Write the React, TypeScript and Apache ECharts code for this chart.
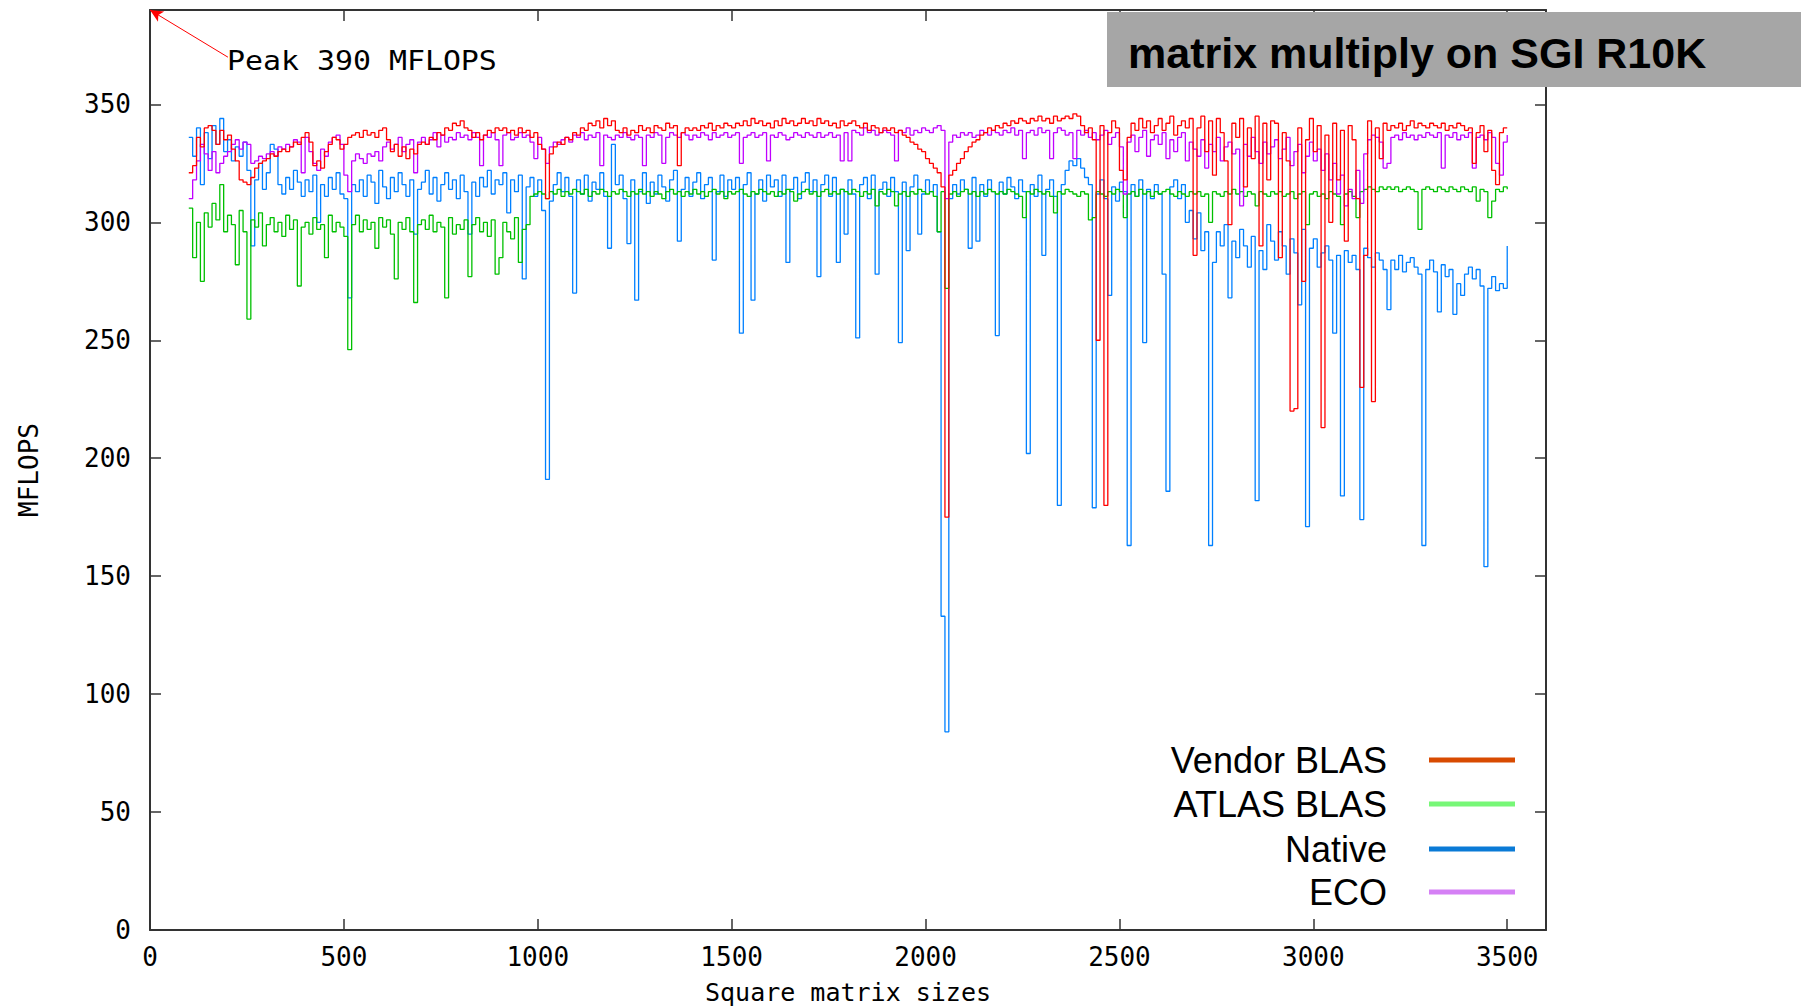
import React, { useEffect, useRef } from "react";
import * as echarts from "echarts";

// Square matrix sizes: measured every 10 from 100 to 3500
const SIZE_START = 100;
const SIZE_STEP = 10;

const SERIES_NAMES = ["Vendor BLAS", "ATLAS BLAS", "Native", "ECO"];
const PLOT_COLORS = ["#ff0000", "#00c000", "#0080ff", "#c000ff"];
const LEGEND_COLORS = ["#d84a00", "#77f777", "#0a7ad6", "#d580f5"];

const VENDOR_BLAS = [
  321, 324, 336, 332, 340, 341, 339, 333, 339, 335,
  337, 331, 326, 318, 317, 316, 319, 323, 325, 326,
  327, 329, 328, 330, 331, 330, 332, 334, 333, 336,
  338, 334, 324, 326, 323, 330, 333, 336, 335, 331,
  333, 336, 337, 338, 336, 339, 337, 338, 336, 339,
  340, 335, 330, 333, 328, 332, 327, 331, 329, 333,
  334, 333, 336, 335, 338, 337, 340, 339, 342, 341,
  343, 340, 339, 336, 338, 335, 337, 339, 338, 340,
  339, 340, 338, 339, 337, 340, 338, 339, 336, 338,
  333, 331, 310, 329, 332, 334, 333, 336, 335, 338,
  337, 340, 339, 342, 341, 343, 340, 344, 341, 343,
  339, 338, 340, 337, 339, 338, 341, 339, 340, 338,
  341, 340, 339, 342, 340, 341, 324, 338, 340, 339,
  340, 339, 341, 340, 342, 339, 341, 340, 342, 341,
  340, 342, 341, 343, 341, 344, 342, 343, 341, 342,
  340, 343, 341, 344, 342, 343, 341, 342, 344, 342,
  343, 341, 344, 342, 343, 341, 342, 340, 343, 341,
  342, 343, 341, 340, 342, 339, 341, 340, 338, 340,
  339, 340, 338, 339, 337, 336, 334, 333, 331, 330,
  327, 325, 323, 321, 315, 175, 320, 322, 325, 327,
  330, 332, 334, 335, 337, 338, 340, 339, 341, 340,
  342, 341, 343, 342, 344, 343, 342, 344, 343, 345,
  343, 344, 342, 345, 343, 344, 345, 344, 346, 345,
  341, 338, 340, 335, 250, 341, 180, 338, 343, 340,
  322, 318, 336, 342, 339, 344, 340, 343, 338, 341,
  344, 339, 342, 345, 337, 341, 343, 340, 344, 286,
  340, 345, 330, 343, 320, 344, 338, 326, 299, 342,
  336, 344, 315, 340, 327, 345, 290, 342, 318, 343,
  342, 285, 338, 326, 220, 221, 340, 275, 335, 344,
  330, 341, 213, 337, 300, 342, 318, 339, 292, 341,
  335, 310, 230, 286, 343, 224, 340, 327, 342, 339,
  341, 340, 342, 339, 341, 343, 340, 342, 341, 340,
  342, 341, 340, 342, 339, 341, 340, 342, 341, 339,
  340, 325, 338, 341, 330, 339, 322, 316, 338, 340,
  340,
];

const ATLAS_BLAS = [
  306, 285, 300, 275, 304, 298, 308, 301, 316, 296,
  303, 299, 282, 305, 296, 259, 301, 298, 304, 290,
  299, 302, 296, 300, 294, 303, 297, 301, 273, 298,
  300, 295, 302, 297, 299, 285, 303, 296, 300, 298,
  294, 246, 299, 303, 296, 301, 297, 300, 289, 302,
  298, 301, 295, 276, 300, 297, 302, 296, 266, 299,
  301, 297, 303, 296, 300, 298, 268, 302, 295, 299,
  297, 301, 277, 299, 302, 296, 300, 294, 301, 278,
  285, 300, 296, 293, 302, 283, 297, 299, 311, 312,
  313, 312, 310, 313, 312, 314, 311, 313, 312, 314,
  313, 312, 314, 311, 313, 312, 314, 313, 311, 313,
  312, 314, 313, 311, 313, 312, 314, 312, 313, 311,
  313, 312, 310, 313, 314, 312, 313, 311, 313, 312,
  314, 312, 313, 311, 313, 314, 312, 313, 310, 313,
  312, 313, 314, 312, 311, 313, 312, 314, 313, 312,
  313, 311, 313, 312, 314, 313, 309, 312, 313, 314,
  312, 313, 311, 313, 314, 312, 313, 312, 314, 313,
  312, 314, 313, 311, 313, 312, 314, 307, 313, 312,
  314, 313, 307, 312, 313, 311, 313, 312, 314, 313,
  312, 313, 311, 296, 313, 272, 312, 313, 311, 313,
  314, 312, 313, 311, 313, 312, 314, 313, 312, 313,
  312, 314, 313, 312, 311, 302, 313, 312, 314, 313,
  312, 313, 311, 304, 313, 312, 314, 313, 312, 311,
  313, 312, 301, 302, 313, 312, 311, 313, 312, 314,
  313, 302, 312, 313, 311, 314, 312, 313, 311, 313,
  312, 313, 314, 312, 311, 313, 312, 311, 313, 312,
  313, 311, 312, 300, 313, 312, 311, 313, 312, 314,
  312, 313, 311, 313, 312, 307, 313, 312, 311, 313,
  312, 313, 311, 312, 313, 310, 312, 313, 299, 312,
  313, 311, 312, 310, 313, 312, 311, 299, 312, 313,
  311, 302, 313, 314, 315, 314, 313, 315, 314, 315,
  314, 315, 313, 314, 315, 314, 313, 297, 314, 315,
  314, 313, 315, 314, 313, 315, 314, 313, 315, 314,
  313, 315, 309, 314, 313, 302, 309, 314, 313, 315,
  314,
];

const NATIVE = [
  336, 328, 340, 316, 338, 327, 341, 333, 344, 330,
  335, 326, 332, 328, 334, 322, 290, 318, 325, 314,
  321, 333, 331, 316, 312, 319, 314, 322, 317, 311,
  318, 313, 320, 300, 316, 311, 319, 314, 321, 312,
  310, 268, 316, 313, 318, 311, 320, 317, 308, 322,
  315, 310, 319, 313, 321, 316, 311, 318, 295, 314,
  317, 322, 312, 319, 309, 316, 321, 314, 318, 310,
  320, 313, 295, 317, 311, 319, 315, 322, 312, 318,
  316, 321, 304, 318, 313, 320, 276, 315, 319, 311,
  318, 305, 191, 309, 316, 321, 313, 319, 311, 270,
  318, 312, 320, 309, 317, 314, 321, 311, 289, 333,
  316, 320, 310, 291, 318, 267, 313, 321, 308, 317,
  312, 320, 315, 309, 318, 322, 292, 314, 319, 311,
  317, 321, 310, 316, 319, 284, 313, 320, 311, 318,
  314, 319, 253, 316, 321, 267, 312, 318, 309, 320,
  315, 318, 311, 320, 283, 314, 319, 310, 317, 321,
  313, 318, 277, 316, 320, 311, 319, 283, 314, 295,
  318, 312, 251, 316, 319, 310, 320, 278, 314, 317,
  311, 319, 313, 249, 317, 288, 315, 320, 295, 312,
  318, 313, 316, 296, 133, 84, 310, 316, 312, 318,
  314, 289, 319, 292, 316, 311, 318, 313, 252, 317,
  312, 319, 315, 310, 318, 313, 202, 316, 311, 320,
  286, 314, 318, 311, 180, 316, 322, 326, 324, 327,
  323, 319, 316, 179, 312, 318, 310, 269, 315, 309,
  317, 313, 163, 316, 311, 318, 249, 314, 310, 316,
  312, 278, 186, 315, 318, 310, 316, 300, 305, 293,
  304, 288, 296, 163, 283, 296, 290, 299, 268, 292,
  285, 297, 290, 281, 294, 182, 288, 280, 299, 292,
  284, 296, 290, 278, 293, 287, 265, 297, 171, 289,
  293, 281, 287, 290, 284, 253, 286, 184, 288, 283,
  286, 280, 174, 289, 285, 281, 287, 284, 280, 263,
  284, 280, 286, 279, 283, 285, 281, 278, 163, 280,
  284, 279, 262, 282, 277, 280, 261, 274, 269, 278,
  281, 276, 280, 273, 154, 272, 277, 271, 274, 272,
  290,
];

const ECO = [
  310, 318, 326, 333, 329, 322, 330, 321, 325, 328,
  330, 333, 335, 331, 334, 333, 325, 326, 328, 327,
  329, 330, 328, 332, 331, 333, 332, 335, 334, 321,
  336, 330, 325, 322, 331, 328, 334, 336, 337, 333,
  320, 313, 326, 329, 327, 325, 329, 328, 330, 326,
  332, 334, 331, 333, 336, 330, 333, 335, 321, 334,
  336, 333, 335, 338, 332, 337, 334, 336, 335, 338,
  336, 337, 335, 338, 336, 324, 337, 336, 338, 335,
  324, 337, 338, 335, 336, 338, 336, 337, 334, 327,
  336, 331, 325, 332, 334, 333, 335, 336, 334, 337,
  336, 338, 335, 337, 336, 338, 324, 337, 336, 335,
  337, 336, 338, 336, 335, 337, 336, 324, 337, 336,
  338, 337, 325, 336, 338, 337, 336, 338, 337, 335,
  337, 336, 338, 337, 335, 338, 336, 337, 338, 336,
  337, 338, 325, 336, 337, 338, 336, 337, 338, 326,
  337, 336, 338, 337, 335, 336, 338, 337, 336, 338,
  337, 336, 338, 336, 337, 338, 336, 337, 326, 338,
  326, 339, 338, 337, 340, 338, 339, 337, 338, 339,
  338, 337, 326, 339, 338, 340, 337, 339, 338, 340,
  339, 338, 340, 341, 339, 310, 334, 337, 336, 338,
  337, 338, 336, 337, 339, 338, 337, 339, 338, 337,
  339, 338, 340, 337, 339, 327, 338, 339, 337, 340,
  338, 339, 327, 338, 340, 339, 337, 338, 327, 339,
  337, 339, 336, 338, 335, 337, 339, 333, 336, 338,
  332, 312, 334, 337, 330, 336, 339, 328, 335, 337,
  333, 338, 327, 335, 330, 336, 338, 326, 334, 331,
  328, 335, 323, 333, 330, 336, 326, 332, 334, 329,
  331, 307, 333, 328, 336, 330, 325, 334, 329, 332,
  335, 327, 331, 336, 324, 330, 333, 321, 328, 334,
  326, 331, 322, 329, 318, 325, 312, 320, 307, 314,
  310, 322, 308, 329, 335, 337, 336, 334, 323, 325,
  336, 337, 335, 338, 336, 337, 335, 337, 336, 338,
  337, 336, 338, 323, 337, 336, 338, 335, 337, 336,
  338, 323, 336, 337, 335, 338, 336, 325, 320, 334,
  337,
];

const SERIES_VALUES = [VENDOR_BLAS, ATLAS_BLAS, NATIVE, ECO];

const PEAK_VALUE = 390;
const PEAK_LABEL = "Peak 390 MFLOPS";
const PEAK_LABEL_ANCHOR = [201, 370];
const TITLE = "matrix multiply on SGI R10K";

const X_MIN = 0;
const X_MAX = 3600;
const X_INTERVAL = 500;
const Y_MIN = 0;
const Y_MAX = 390;
const Y_INTERVAL = 50;

const MONO = '"DejaVu Sans Mono", "Liberation Mono", monospace';

function toPairs(values: number[]) {
  return values.map((v, i) => [SIZE_START + i * SIZE_STEP, v]);
}

export default function App() {
  const ref = useRef<HTMLDivElement>(null);

  useEffect(() => {
    if (!ref.current) return;
    const chart = echarts.init(ref.current, null, { renderer: "svg" });

    // draw order: Native, ATLAS, ECO, Vendor (Vendor on top)
    const drawOrder = [2, 1, 3, 0];
    const series: any[] = drawOrder.map((idx) => ({
      name: SERIES_NAMES[idx],
      type: "line",
      step: "end",
      data: toPairs(SERIES_VALUES[idx]),
      showSymbol: false,
      symbol: "none",
      lineStyle: { color: PLOT_COLORS[idx], width: 1.3 },
      itemStyle: { color: PLOT_COLORS[idx] },
      emphasis: { disabled: true },
      silent: true,
      z: 2,
      ...(idx === 0
        ? {
            markLine: {
              silent: true,
              symbol: ["none", "arrow"],
              symbolSize: [9, 13],
              label: { show: false },
              lineStyle: { color: "#ff0000", type: "solid", width: 1 },
              data: [
                [
                  { coord: PEAK_LABEL_ANCHOR },
                  { coord: [X_MIN, PEAK_VALUE] },
                ],
              ],
            },
          }
        : {}),
    }));

    const rowY = [760, 804, 849, 892];
    const legendGraphics: any[] = [];
    SERIES_NAMES.forEach((name, i) => {
      legendGraphics.push({
        type: "text",
        x: 1387,
        y: rowY[i],
        z: 20,
        style: {
          text: name,
          font: '36px "Liberation Sans", Arial, sans-serif',
          fill: "#000",
          align: "right",
          verticalAlign: "middle",
        },
      });
      legendGraphics.push({
        type: "line",
        z: 20,
        shape: { x1: 1429, y1: rowY[i], x2: 1515, y2: rowY[i] },
        style: { stroke: LEGEND_COLORS[i], lineWidth: 5 },
      });
    });

    const axisLineStyle = { color: "#333", width: 2 };
    const labelStyle = { fontFamily: MONO, fontSize: 26, color: "#000" };
    const tickStyle = { show: true, inside: true, length: 11, lineStyle: { color: "#333", width: 1.5 } };
    const plain = (v: number) => String(v);

    chart.setOption({
      animation: false,
      backgroundColor: "#fff",
      title: {
        text: TITLE,
        left: 1128,
        top: 31,
        padding: 0,
        z: 30,
        textStyle: {
          fontFamily: '"Liberation Sans Narrow", "Liberation Sans", Arial, sans-serif',
          fontWeight: "bold",
          fontSize: 43,
          color: "#000",
        },
      },
      grid: {
        left: 150,
        right: 255,
        top: 10,
        bottom: 78,
        containLabel: false,
        outerBoundsMode: "none",
      },
      xAxis: [
        {
          type: "value",
          min: X_MIN,
          max: X_MAX,
          interval: X_INTERVAL,
          name: "Square matrix sizes",
          nameLocation: "middle",
          nameGap: 50,
          nameTextStyle: { fontFamily: MONO, fontSize: 25, color: "#000" },
          axisLine: { show: true, onZero: false, lineStyle: axisLineStyle },
          axisTick: tickStyle,
          axisLabel: { ...labelStyle, margin: 14, showMaxLabel: false, formatter: plain },
          splitLine: { show: false },
        },
        {
          type: "value",
          position: "top",
          min: X_MIN,
          max: X_MAX,
          interval: X_INTERVAL,
          axisLine: { show: true, onZero: false, lineStyle: axisLineStyle },
          axisTick: tickStyle,
          axisLabel: { show: false },
          splitLine: { show: false },
        },
      ],
      yAxis: [
        {
          type: "value",
          min: Y_MIN,
          max: Y_MAX,
          interval: Y_INTERVAL,
          name: "MFLOPS",
          nameLocation: "middle",
          nameGap: 108,
          nameTextStyle: labelStyle,
          axisLine: { show: true, onZero: false, lineStyle: axisLineStyle },
          axisTick: tickStyle,
          axisLabel: { ...labelStyle, margin: 19, showMaxLabel: false, formatter: plain },
          splitLine: { show: false },
        },
        {
          type: "value",
          position: "right",
          min: Y_MIN,
          max: Y_MAX,
          interval: Y_INTERVAL,
          axisLine: { show: true, onZero: false, lineStyle: axisLineStyle },
          axisTick: tickStyle,
          axisLabel: { show: false },
          splitLine: { show: false },
        },
      ],
      series,
      graphic: [
        {
          type: "rect",
          z: 10,
          shape: { x: 1107, y: 12, width: 694, height: 75 },
          style: { fill: "#a6a6a6" },
        },
        {
          type: "text",
          x: 227,
          y: 61,
          z: 20,
          scaleX: 1.15,
          style: {
            text: PEAK_LABEL,
            font: '26px "DejaVu Sans Mono", monospace',
            fill: "#000",
            align: "left",
            verticalAlign: "middle",
          },
        },
        ...legendGraphics,
      ],
    });

    return () => chart.dispose();
  }, []);

  return (
    <div
      ref={ref}
      style={{
        position: "fixed",
        left: 0,
        top: 0,
        width: "1801px",
        height: "1008px",
        background: "#fff",
      }}
    />
  );
}
